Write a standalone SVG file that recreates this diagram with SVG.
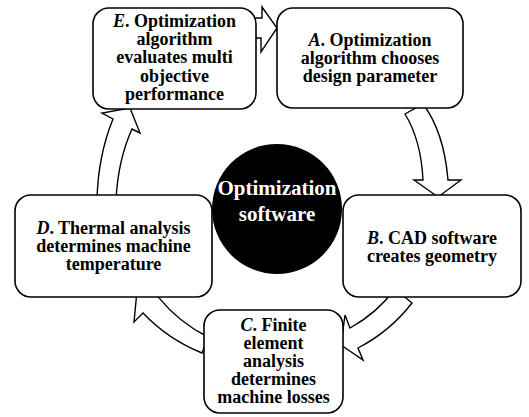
<svg xmlns="http://www.w3.org/2000/svg" width="529" height="417" viewBox="0 0 529 417">
<style>
.box{fill:#fff;stroke:#000;stroke-width:1.6}
.arr{fill:#fff;stroke:#000;stroke-width:1.4;stroke-linejoin:miter}
text{font-family:"Liberation Serif","Times New Roman",serif;font-weight:bold;font-size:18px;text-anchor:middle;fill:#000}
.i{font-style:italic}
.w{fill:#fff;font-size:21px}
</style>
<rect width="529" height="417" fill="#fff"/>
<g id="connectors">
<path class="arr" d="M248,18 L262,18 L262,7 L277,28 L261,52 L261,38 L248,38 Z"/>
<path class="arr" d="M405,114 L423,104 Q444,132 448,180 L461,180 L438,197 L414,180 L423,180 Q421,140 405,114 Z"/>
<path class="arr" d="M395,289 A141,141 0 0 1 350,328 L345,315 L341,345 L363,360 L358,348 A164,164 0 0 0 412,303 Z"/>
<path class="arr" d="M208,337 A150,150 0 0 1 158.6,297.4 L167.6,288 L137,291 L134,322 L143,313 A168,168 0 0 0 202,353 Z"/>
<path class="arr" d="M97,200 Q98,156 113,119 L102,113 L130,108 L140,133 L132,129 Q118,160 116,200 Z"/>
</g>
<g id="nodeE">
<rect class="box" x="93" y="8" width="163" height="101" rx="16"/>
<text x="174.5" y="27"><tspan class="i">E</tspan>. Optimization</text>
<text x="174.5" y="45.2">algorithm</text>
<text x="174.5" y="63.4">evaluates multi</text>
<text x="174.5" y="81.6">objective</text>
<text x="174.5" y="99.8">performance</text>
</g>
<g id="nodeA">
<rect class="box" x="277" y="8" width="186" height="100" rx="16"/>
<text x="370" y="46"><tspan class="i">A</tspan>. Optimization</text>
<text x="370" y="64">algorithm chooses</text>
<text x="370" y="82">design parameter</text>
</g>
<g id="nodeB">
<rect class="box" x="343" y="195" width="178" height="102" rx="16"/>
<text x="432" y="243.5"><tspan class="i">B</tspan>. CAD software</text>
<text x="432" y="261.5">creates geometry</text>
</g>
<g id="nodeD">
<rect class="box" x="15" y="195" width="197" height="102" rx="16"/>
<text x="113.5" y="234"><tspan class="i">D</tspan>. Thermal analysis</text>
<text x="113.5" y="252">determines machine</text>
<text x="113.5" y="270">temperature</text>
</g>
<g id="nodeC">
<rect class="box" x="204" y="310" width="139" height="103" rx="16"/>
<text x="273.5" y="330.5"><tspan class="i">C</tspan>. Finite</text>
<text x="273.5" y="348.7">element</text>
<text x="273.5" y="366.9">analysis</text>
<text x="273.5" y="385.1">determines</text>
<text x="273.5" y="403.3">machine losses</text>
</g>
<g id="center">
<circle cx="277" cy="209" r="65" fill="#000"/>
<text class="w" x="277" y="195">Optimization</text>
<text class="w" x="277" y="221">software</text>
</g>
</svg>
